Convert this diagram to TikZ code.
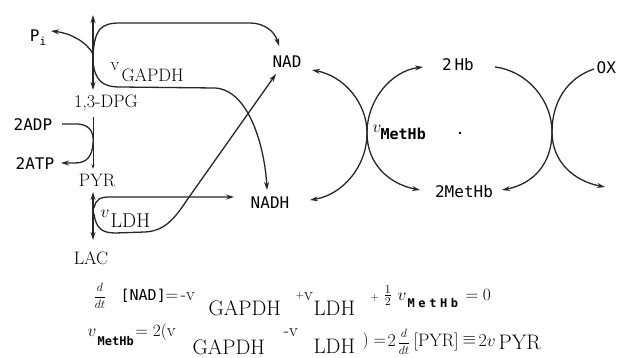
\documentclass[tikz,border=0pt]{standalone}
\usepackage{fontspec}
\usepackage{amsmath}
\newfontfamily\monof{DejaVu Sans Mono}
\usetikzlibrary{arrows.meta}
\newcommand{\mt}[1]{{\monof #1}}
\newcommand{\at}[2]{\makebox[#1pt][l]{#2}}
\newcommand{\lw}[2]{\raisebox{-#1pt}{#2}}
\newcommand{\subf}{\fontsize{21}{21}\selectfont}
\begin{document}
\begin{tikzpicture}[x=1pt,y=-1pt,
  line width=1.3pt, draw=black!85,
  arr/.style={-{Stealth[length=8pt,width=5pt]}},
  barr/.style={{Stealth[length=8pt,width=5pt]}-{Stealth[length=8pt,width=5pt]}},
  lbl/.style={inner sep=0pt, font=\fontsize{18}{20}\selectfont},
  mlbl/.style={inner sep=0pt, font=\fontsize{16}{18}\monof},
  eq/.style={inner sep=0pt, anchor=base west, font=\fontsize{18}{20}\selectfont},
  ]
\useasboundingbox (0,0) rectangle (620,358);
% labels
\node[mlbl] (pi) at (38,38) {P\lw{4}{\fontsize{11}{11}\selectfont i}};
\node[lbl] (dpg) at (106,103) {1,3-DPG};
\node[mlbl] (adp) at (33,125) {2ADP};
\node[mlbl] (atp) at (35,164) {2ATP};
\node[lbl] (pyr) at (97,180) {PYR};
\node[lbl] (lac) at (91,258) {LAC};
\node[mlbl] (nad) at (287,62) {NAD};
\node[mlbl] (nadh) at (270,203) {NADH};
\node[lbl,anchor=base west] (vg) at (110,71) {\at{11}{v}\lw{11}{GAPDH}};
\node[lbl,anchor=base west] (vl) at (100,217) {\at{10}{$v$}\lw{10}{\fontsize{20}{20}\selectfont LDH}};
\node[lbl,anchor=base west] (vm) at (372,133) {\at{8}{$v$}\lw{7}{\fontsize{15}{15}\monof\bfseries MetHb}};
\node[circle, fill, inner sep=0.9pt] (dot) at (460,133) {};
\node[mlbl] (hb) at (458,65) {2\,Hb};
\node[mlbl] (methb) at (464,192) {2MetHb};
\node[mlbl,anchor=west] (ox) at (596,68) {OX};
% coordinates
\coordinate (vt) at (93,15);
\coordinate (vb) at (93,90);
\coordinate (ja) at (93,54);
\coordinate (jb) at (93,62);
\coordinate (pit) at (51,31);
\coordinate (nadt) at (279,46);
\coordinate (nadht) at (267,190);
\coordinate (lt) at (93,192);
\coordinate (lb) at (93,240);
\coordinate (la) at (94,208);
\coordinate (lc) at (94,214);
\coordinate (nadhl) at (234,197);
\coordinate (nadb) at (276,74);
\coordinate (adpe) at (62,124);
\coordinate (atpe) at (61,163);
% left pathway
\draw[barr] (vb) -- (vt);
\draw[arr] (ja) .. controls (87,42) and (70,33) .. (pit);
\draw[arr] (ja) .. controls (95,30) and (100,23) .. (120,23) -- (250,23) .. controls (265,23) and (275,32) .. (nadt);
\draw[arr] (jb) .. controls (95,80) and (102,87) .. (120,87) -- (215,88) .. controls (250,90) and (265,150) .. (nadht);
\draw[line width=0.7pt,-{Stealth[length=5pt,width=3pt]}] (93,117) -- (93,169);
\draw[arr] (adpe) -- (78,124) .. controls (92,125) and (94,135) .. (93,144) .. controls (92,155) and (88,163) .. (75,163) -- (atpe);
\draw[barr] (lb) -- (lt);
\draw[arr] (la) .. controls (96,199) and (100,197) .. (110,197) -- (nadhl);
\draw[arr] (lc) .. controls (96,228) and (102,233) .. (115,233) -- (145,232) .. controls (165,231) and (175,218) .. (187,200) -- (nadb);
% MetHb reaction arcs
\coordinate (m1) at (367,133);
\coordinate (m2) at (552,132);
\draw[barr] (312,70) .. controls (344,76) and (367,103) .. (m1) .. controls (367,167) and (342,195) .. (310,200);
\draw[barr] (423,67) .. controls (391,71) and (367,100) .. (m1) .. controls (367,164) and (389,184) .. (420,190);
\draw[arr] (495,67) .. controls (527,71) and (552,100) .. (m2) .. controls (552,164) and (533,184) .. (502,190);
\draw[arr] (594,69) .. controls (567,78) and (552,102) .. (m2) .. controls (552,162) and (574,181) .. (605,187);
% equations
\node[eq] (eq1) at (93,300) {%
\at{27}{\fontsize{13}{13}\selectfont$\dfrac{d}{dt}$}%
\at{45}{\fontsize{15}{15}\monof[NAD]}%
\at{15}{$=$}%
\at{28}{-v}%
\at{87}{\lw{15}{\subf GAPDH}}%
\at{18}{\raisebox{2pt}{\fontsize{11}{11}\selectfont+}v}%
\at{57}{\lw{15}{\subf LDH}}%
\at{13}{\fontsize{11}{11}\selectfont+}%
\at{14}{$\frac{1}{2}$}%
\at{10}{$v$}%
\at{58}{\lw{7}{\fontsize{12}{12}\monof\bfseries\addfontfeature{LetterSpace=30}MetHb}}%
$=0$};
\node[eq] (eq2) at (87,336) {%
\at{10}{$v$}%
\at{38}{\lw{9}{\fontsize{12}{12}\monof\bfseries MetHb}}%
\at{57}{$=2($v}%
\at{91}{\lw{18}{\subf GAPDH}}%
\at{30}{-v}%
\at{49}{\lw{17}{\subf LDH}}%
\at{25}{\lw{9}{$)=$}}%
\at{10}{\lw{10}{2}}%
\at{16}{\lw{10}{\fontsize{13}{13}\selectfont$\dfrac{d}{dt}$}}%
\at{49}{\lw{10}{[PYR]}}%
\at{16}{\lw{8}{$\equiv$}}%
\at{20}{\lw{10}{2$v$}}%
\lw{13}{\subf PYR}};
\end{tikzpicture}
\end{document}
